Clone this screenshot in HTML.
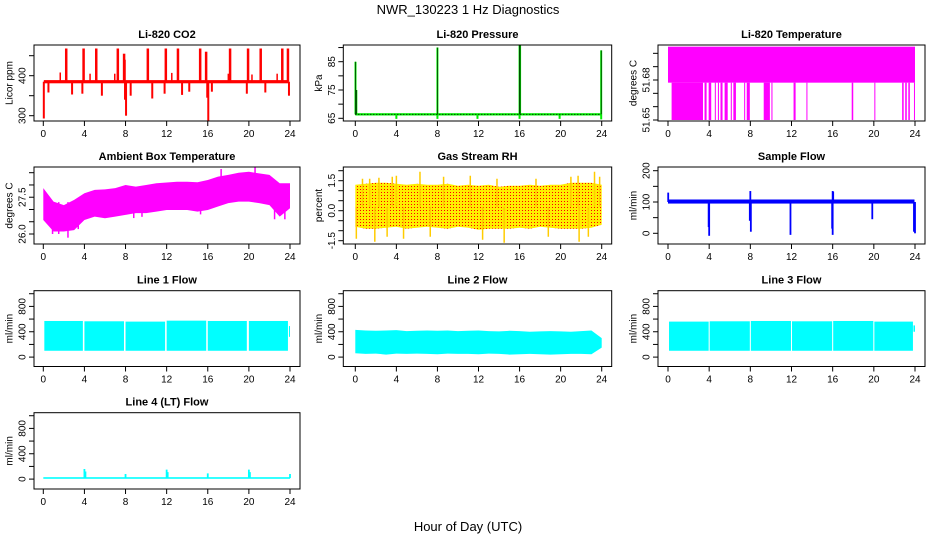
<!DOCTYPE html>
<html><head><meta charset="utf-8"><title>NWR_130223 1 Hz Diagnostics</title>
<style>
html,body{margin:0;padding:0;background:#fff;}
svg{display:block;font-family:"Liberation Sans",Arial,sans-serif;}
</style></head>
<body>
<svg id="chart" width="936" height="540" viewBox="0 0 936 540" xmlns="http://www.w3.org/2000/svg">
<defs>
<pattern id="rhdots" width="3" height="3" patternUnits="userSpaceOnUse"><rect width="3" height="3" fill="#ffee00"/><rect x="0" y="0" width="1" height="1" fill="#ff0000"/></pattern>
</defs>
<text x="468" y="14" text-anchor="middle" font-size="13">NWR_130223  1 Hz Diagnostics</text>
<text x="468" y="531" text-anchor="middle" font-size="13">Hour of Day (UTC)</text>
</svg>
<script>
// ---------- data ----------
const xTicks=[0,4,8,12,16,20,24];
const xTickLabels=["0","4","8","12","16","20","24"];

const co2Ticks=[300,350,400,450];
const co2TickLabels=["300","","400",""];
const co2BaseLo=381, co2BaseHi=389;
const co2UpTimes=[2.23,3.92,5.15,7.25,7.86,10.17,11.92,13.1,15.26,15.84,18.17,19.92,21.15,23.25,23.8];
const co2UpValues=[468,468,468,468,455,468,468,468,468,460,468,468,468,468,468];
const co2SmallTimes=[1.65,4.55,6.95,7.95,12.5,18.0,20.3,22.75];
const co2SmallValues=[408,405,405,440,407,405,403,405];
const co2DownTimes=[0.05,0.5,2.8,3.8,5.7,7.95,8.05,8.5,10.6,11.8,13.5,14.2,15.95,16.05,16.4,19.8,21.6,23.9];
const co2DownValues=[293,358,353,355,350,340,300,350,343,355,352,360,345,288,360,355,358,350];

const presTicks=[65,70,75,80,85,90];
const presTickLabels=["65","","75","","85",""];
const presBaseLo=66.0, presBaseHi=66.8;
const presUpTimes=[0.02,0.1,8.0,16.0,16.05,23.95];
const presUpValues=[85,75,90,91,91,89];
const presDownTimes=[4,8,11.9,16,19.9,23.95];
const presDownValues=[64.8,64.8,64.8,64.8,64.8,64.6];

const tempTicks=[51.65,51.66,51.67,51.68,51.69,51.70];
const tempTickLabels=["51.65","","","51.68","",""];
const tempBandLo=51.678, tempBandHi=51.705;
const tempDipStarts=[0.35,3.55,3.95,4.55,4.85,5.1,5.5,6.1,6.35,7.4,7.65,9.3,10.05,12.2,13.45,17.85,20.05,22.75,23.05,23.35,23.9];
const tempDipEnds=[3.4,3.75,4.2,4.65,4.95,5.3,5.8,6.2,6.6,7.45,7.95,9.9,10.15,12.4,13.5,18.0,20.1,22.9,23.2,23.5,23.95];
const tempDipLow=51.65;

const ambTicks=[26.0,26.5,27.0,27.5,28.0,28.5];
const ambTickLabels=["26.0","","","27.5","",""];
const ambHours=[0,1,2,3,4,5,6,7,8,9,10,11,12,13,14,15,16,17,18,19,20,21,22,23,24];
const ambHi=[27.87,27.32,27.18,27.39,27.66,27.8,27.82,27.87,28.0,27.93,28.0,28.07,28.1,28.13,28.13,28.11,28.2,28.34,28.41,28.5,28.54,28.47,28.41,28.07,28.07];
const ambLo=[26.57,26.1,26.1,26.16,26.57,26.71,26.64,26.71,26.78,26.85,26.85,26.91,26.98,26.98,26.98,26.91,26.98,27.12,27.26,27.32,27.32,27.26,27.18,26.71,27.05];
const ambSpikeTimes=[0.9,1.5,2.4,3.4,8.8,9.6,15.3,22.5,23.5,17.3,20.6];
const ambSpikeValues=[26.0,26.0,25.85,26.2,26.65,26.7,26.8,26.6,26.6,28.65,28.75];

const rhTicks=[-1.5,-1.0,-0.5,0,0.5,1.0,1.5,2.0];
const rhTickLabels=["-1.5","","","0.0","","","1.5",""];
const rhHours=[0,1,2,3,4,5,6,7,8,9,10,11,12,13,14,15,16,17,18,19,20,21,22,23,24];
const rhHi=[1.3,1.35,1.4,1.4,1.35,1.3,1.35,1.3,1.3,1.35,1.25,1.3,1.25,1.3,1.2,1.25,1.25,1.3,1.25,1.3,1.3,1.4,1.4,1.4,1.3];
const rhLo=[-0.8,-0.9,-0.9,-0.85,-0.8,-0.9,-0.85,-0.8,-0.85,-0.9,-0.8,-0.85,-0.95,-0.9,-0.9,-0.9,-0.85,-0.9,-0.8,-0.85,-0.9,-0.9,-0.9,-0.85,-0.7];
const rhUpTimes=[0.7,1.4,2.3,3.6,4.0,6.3,8.6,11.2,13.8,17.6,21.0,21.7,23.3,23.8];
const rhUpValues=[1.6,1.6,1.65,1.7,1.75,1.95,1.7,1.75,1.6,1.6,1.7,1.75,1.95,1.7];
const rhDownTimes=[0.1,1.9,3.1,4.7,7.3,12.4,14.5,18.8,21.8,22.7];
const rhDownValues=[-1.4,-1.55,-1.3,-1.4,-1.3,-1.45,-1.6,-1.3,-1.55,-1.3];

const sfTicks=[0,50,100,150,200];
const sfTickLabels=["0","","100","","200"];
const sfBaseLo=95, sfBaseHi=108;
const sfDownTimes=[3.95,4.0,7.95,8.05,11.9,15.95,16.0,19.85,23.9,24.0];
const sfDownValues=[20,-8,40,5,-5,15,-5,45,5,0];
const sfUpTimes=[0.02,8.0,16.0,16.05];
const sfUpValues=[130,135,135,133];

const flowTicks=[0,200,400,600,800,1000];
const flowTickLabels=["0","","400","","800",""];
const l1SegStart=[0.1,4.0,8.0,12.0,16.0,20.0,23.9];
const l1SegEnd=[3.85,7.85,11.85,15.85,19.8,23.8,24.0];
const l1SegLo=[100,100,100,100,100,100,320];
const l1SegHi=[570,565,560,575,570,570,490];

const l2Hours=[0,1,2,3,4,5,6,7,8,9,10,11,12,13,14,15,16,17,18,19,20,21,22,23,24];
const l2Hi=[430,420,415,420,425,410,415,420,415,420,410,415,420,410,405,415,410,400,405,410,405,400,410,420,300];
const l2Lo=[60,50,55,40,55,50,55,50,45,55,50,50,45,55,50,40,45,50,45,40,45,50,50,45,150];

const l3SegStart=[0.1,4.05,8.05,12.05,16.05,20.05,23.85];
const l3SegEnd=[3.95,7.95,11.95,15.95,19.95,23.8,24.0];
const l3SegLo=[100,100,100,100,100,100,400];
const l3SegHi=[560,565,570,565,570,560,500];

const l4BaseLo=5, l4BaseHi=30;
const l4SpikeTimes=[4.0,4.1,8.0,12.0,12.1,16.0,20.0,20.1,24.0];
const l4SpikeValues=[160,120,80,150,110,90,150,110,80];

// ---------- layout ----------
const NS="http://www.w3.org/2000/svg";
const svg=document.getElementById('chart');
const cols=[{L:34,R:300,x0:43.3,x24:290},{L:343.3,R:611.7,x0:355.3,x24:601.7},{L:658,R:925,x0:668,x24:915}];
const rows=[{T:45,B:121},{T:167,B:244},{T:290.7,B:366.5},{T:412.7,B:489}];

function mk(tag,parent,attrs){const e=document.createElementNS(NS,tag);for(const k in attrs)e.setAttribute(k,attrs[k]);parent.appendChild(e);return e;}

let clipN=0;
function makePanel(name,c,r,title,ylab,v1,p1,v2,p2,ticks,labels){
  const C=cols[c],R=rows[r];
  const g=mk('g',svg,{});
  
  
  const xs=t=>C.x0+(t/24)*(C.x24-C.x0);
  const ys=v=>p1+(v-v1)*(p2-p1)/(v2-v1);
  const id='clip'+(clipN++);
  const cp=mk('clipPath',g,{id:id});
  mk('rect',cp,{x:C.L,y:R.T,width:C.R-C.L,height:R.B-R.T});
  const data=mk('g',g,{'clip-path':'url(#'+id+')'});
  
  
  const box=mk('rect',g,{x:C.L,y:R.T,width:C.R-C.L,height:R.B-R.T,fill:'none',stroke:'#000','stroke-width':1});
  
  
  const t=mk('text',g,{x:(C.L+C.R)/2,y:R.T-7,'text-anchor':'middle','font-size':11,'font-weight':'bold'});
  t.textContent=title;
  
  
  const xa=mk('g',g,{});
  
  
  xTicks.forEach((tv,i)=>{
    const x=xs(tv);
    mk('line',xa,{x1:x,x2:x,y1:R.B,y2:R.B+5,stroke:'#000'});
    const lt=mk('text',xa,{x:x,y:R.B+16,'text-anchor':'middle','font-size':10});
    lt.textContent=xTickLabels[i];
  });
  const ya=mk('g',g,{});
  
  
  ticks.forEach((tv,i)=>{
    const y=ys(tv);
    mk('line',ya,{x1:C.L-5,x2:C.L,y1:y,y2:y,stroke:'#000'});
    if(labels[i]){
      const lt=mk('text',ya,{transform:'translate('+(C.L-12)+','+y+') rotate(-90)','text-anchor':'middle',dy:'0.35em','font-size':10});
      lt.textContent=labels[i];
    }
  });
  const yt=mk('text',g,{transform:'translate('+(C.L-25)+','+((R.T+R.B)/2)+') rotate(-90)','text-anchor':'middle',dy:'0.35em','font-size':10});
  yt.textContent=ylab;
  
  
  return {xs,ys,g:data};
}
function band(P,t0,t1,lo,hi,fill){
  const y1=P.ys(hi),y2=P.ys(lo);
  const r=mk('rect',P.g,{x:P.xs(t0),y:Math.min(y1,y2),width:Math.max(1,P.xs(t1)-P.xs(t0)),height:Math.max(1,Math.abs(y2-y1)),fill:fill});
  
  
}
function envelope(P,hours,lo,hi,fill){
  let d='M'+hours.map((h,i)=>P.xs(h)+','+P.ys(hi[i])).join(' L');
  for(let i=hours.length-1;i>=0;i--)d+=' L'+P.xs(hours[i])+','+P.ys(lo[i]);
  const p=mk('path',P.g,{d:d+'Z',fill:fill});
  
  
}
function spikes(P,times,vals,base,color,w){
  times.forEach((t,i)=>{
    const l=mk('line',P.g,{x1:P.xs(t),x2:P.xs(t),y1:P.ys(base),y2:P.ys(vals[i]),stroke:color,'stroke-width':w});
    
    
  });
}

// CO2
const pCO2=makePanel('co2',0,0,'Li-820 CO2','Licor ppm',400,75.7,300,115.7,co2Ticks,co2TickLabels);
band(pCO2,0.05,23.85,co2BaseLo,co2BaseHi,'#ff0000');
spikes(pCO2,co2UpTimes,co2UpValues,385,'#ff0000',2.5);
spikes(pCO2,co2SmallTimes,co2SmallValues,385,'#ff0000',1.5);
spikes(pCO2,co2DownTimes,co2DownValues,385,'#ff0000',2);

// Pressure
const pPres=makePanel('pressure',1,0,'Li-820 Pressure','kPa',65,118.3,85,61.7,presTicks,presTickLabels);
band(pPres,0.0,23.95,presBaseLo,presBaseHi,'#00ee00');
spikes(pPres,presUpTimes,presUpValues,66.4,'#00ee00',2);
spikes(pPres,presDownTimes,presDownValues,66.4,'#00ee00',2);
(function(){const l=mk('line',pPres.g,{x1:pPres.xs(0),x2:pPres.xs(23.95),y1:pPres.ys(66.4),y2:pPres.ys(66.4),stroke:'#000','stroke-width':1,'stroke-dasharray':'1 2'});

})();
spikes(pPres,presUpTimes,presUpValues,66.4,'#000',0.6);

// Li-820 temperature
const pTemp=makePanel('li820-temperature',2,0,'Li-820 Temperature','degrees C',51.65,120,51.68,80,tempTicks,tempTickLabels);
band(pTemp,0,24,tempBandLo,tempBandHi,'#ff00ff');
tempDipStarts.forEach((s,i)=>band(pTemp,s,tempDipEnds[i],tempDipLow,tempBandLo,'#ff00ff'));

// Ambient
const pAmb=makePanel('ambient-temperature',0,1,'Ambient Box Temperature','degrees C',26,234,28.5,172.7,ambTicks,ambTickLabels);
envelope(pAmb,ambHours,ambLo,ambHi,'#ff00ff');
spikes(pAmb,ambSpikeTimes,ambSpikeValues,27.3,'#ff00ff',1.5);

// RH
const pRH=makePanel('gas-stream-rh',1,1,'Gas Stream RH','percent',0,210.7,1.5,180.7,rhTicks,rhTickLabels);
envelope(pRH,rhHours,rhLo,rhHi,'url(#rhdots)');
spikes(pRH,rhUpTimes,rhUpValues,0.2,'#ffcc00',1.5);
spikes(pRH,rhDownTimes,rhDownValues,0.2,'#ffcc00',1.5);

// Sample flow
const pSF=makePanel('sample-flow',2,1,'Sample Flow','ml/min',0,233.3,200,170.7,sfTicks,sfTickLabels);
band(pSF,0,23.95,sfBaseLo,sfBaseHi,'#0000ff');
spikes(pSF,sfDownTimes,sfDownValues,100,'#0000ff',1.8);
spikes(pSF,sfUpTimes,sfUpValues,100,'#0000ff',1.8);

// Line flows
function flowPanel(name,c,r,title){const R=rows[r];return makePanel(name,c,r,title,'ml/min',0,R.T+66.4,800,R.T+15.7,flowTicks,flowTickLabels);}
const pL1=flowPanel('line1-flow',0,2,'Line 1 Flow');
l1SegStart.forEach((s,i)=>band(pL1,s,l1SegEnd[i],l1SegLo[i],l1SegHi[i],'#00ffff'));
const pL2=flowPanel('line2-flow',1,2,'Line 2 Flow');
envelope(pL2,l2Hours,l2Lo,l2Hi,'#00ffff');
const pL3=flowPanel('line3-flow',2,2,'Line 3 Flow');
l3SegStart.forEach((s,i)=>band(pL3,s,l3SegEnd[i],l3SegLo[i],l3SegHi[i],'#00ffff'));
const pL4=flowPanel('line4-flow',0,3,'Line 4 (LT) Flow');
band(pL4,0,24,l4BaseLo,l4BaseHi,'#00ffff');
spikes(pL4,l4SpikeTimes,l4SpikeValues,15,'#00ffff',1.8);
</script>
</body></html>
